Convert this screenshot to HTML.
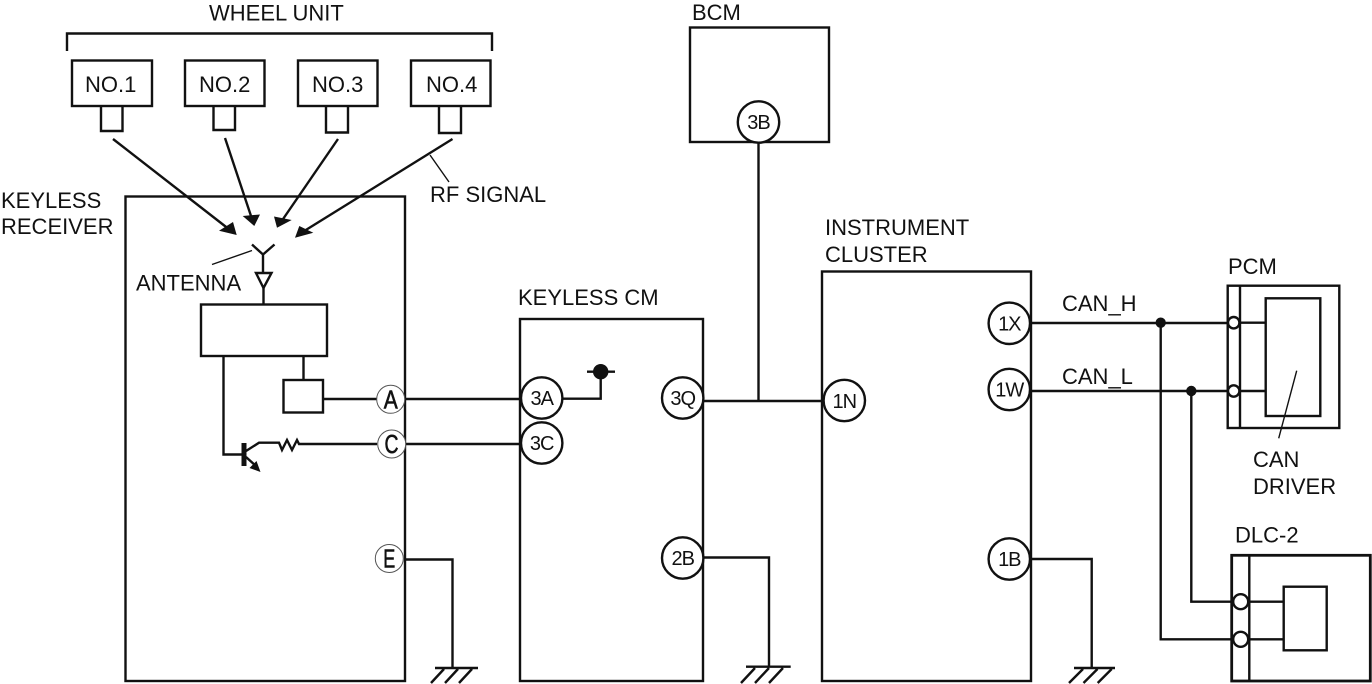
<!DOCTYPE html>
<html><head><meta charset="utf-8"><style>
html,body{margin:0;padding:0;background:#fff}
svg{display:block}
text{font-family:"Liberation Sans",sans-serif;font-size:22px;fill:#111}
.c{font-size:20px;text-anchor:middle;letter-spacing:-1px}
.l{font-size:26px;text-anchor:middle;stroke:#111;stroke-width:.6}
.s{fill:none;stroke:#111;stroke-width:2.4}
.w{fill:#fff;stroke:#111;stroke-width:2.4}
.t{fill:#fff;stroke:#555;stroke-width:1}
.b{fill:#111;stroke:none}
</style></head><body>
<svg width="1372" height="684" viewBox="0 0 1372 684" xmlns="http://www.w3.org/2000/svg">
<g class="s">
<path d="M67 51V33.5H492V51"/>
<rect x="72" y="60.5" width="80" height="45.5"/>
<rect x="185" y="60.5" width="79.5" height="45.5"/>
<rect x="298" y="60.5" width="79.5" height="45.5"/>
<rect x="411" y="60.5" width="79.5" height="45.5"/>
<path d="M101 106V131H122.5V106"/>
<path d="M213.5 106V130H235V106"/>
<path d="M326 106V132.5H348V106"/>
<path d="M439 106V133H461V106"/>
<path d="M113 139L230 230"/>
<path d="M225 138L252 219"/>
<path d="M338 139L281 222"/>
<path d="M452.5 139L301 233"/>
<path d="M430 155L449 182" stroke-width="1.4"/>
<rect x="125.5" y="196.5" width="279.5" height="484.5"/>
<path d="M252 244.5L263 254.5L274.5 244.5M263 254.5V273M263.5 288V304.5"/>
<path d="M256 273H271.5L263.5 288Z"/>
<path d="M212 264.5L252 250.5" stroke-width="1.4"/>
<rect x="201" y="304.5" width="126" height="51.5"/>
<rect x="283.5" y="380" width="39.5" height="32.5"/>
<path d="M303.5 356V380M323 399H377M405 399H520"/>
<path d="M223.5 356V454.5H242"/>
<path d="M246 451L259 442.7H279L282 450L287 440L292 450L297 440L299 444H377M405 444H520"/>
<path d="M246 457L257 467"/>
<path d="M405 559.5H452.5V668M435 668H478M444 669L431 683M458 669L445 683M472 669L459 683"/>
<rect x="520" y="319" width="183" height="362"/>
<path d="M562 398.7H600.7V372M587 371.7H615"/>
<path d="M703 401H823M758.5 142V401"/>
<path d="M703 557.5H769V666.7M746 666.7H790.7M755 668L741 683M769 668L755 683M783 668L769 683"/>
<rect x="690" y="27.5" width="139" height="114.5"/>
<rect x="822" y="271.5" width="209" height="409.5"/>
<path d="M1031 559H1091.7V668M1074 668H1115M1083 669L1069 683M1097.5 669L1083.500 683M1111.7 669L1097.700 683"/>
<path d="M1031 323H1228M1031 391H1228"/>
<rect x="1227.7" y="285.7" width="111.6" height="142.3"/>
<path d="M1240 285.7V428"/>
<rect x="1265.7" y="298.3" width="54.6" height="117.7"/>
<path d="M1240 322.7H1265.7M1240 391H1265.7"/>
<path d="M1296.7 370.7L1278.7 438.3" stroke-width="1.4"/>
<path d="M1160.7 323V639.3H1233M1191.3 391V601.7H1233"/>
<rect x="1231.7" y="555.3" width="138.6" height="125.7" stroke-width="2.8"/>
<path d="M1249.3 555.3V681"/>
<rect x="1283.7" y="586.7" width="43" height="63.6"/>
<path d="M1249 601.7H1283.7M1249 639.3H1283.7"/>
</g>
<g class="b">
<path d="M236.7 235L219 230.700L233 222Z"/>
<path d="M254.3 226L242.7 216L260 214.500Z"/>
<path d="M277 227.7L274 216.500L291.7 220Z"/>
<path d="M295 237.7L299.3 226L313.3 232.7Z"/>
<rect x="241.5" y="443" width="5" height="23"/>
<path d="M260.5 472L249.5 468L256.5 461Z"/>
<circle cx="600.7" cy="371.7" r="7.7"/>
<circle cx="1160.7" cy="322.7" r="5.2"/>
<circle cx="1191.3" cy="391" r="5.2"/>
</g>
<g class="w">
<circle cx="541.7" cy="398" r="20.7"/><circle cx="541.7" cy="443" r="20.7"/>
<circle cx="682.7" cy="398" r="20.7"/><circle cx="682.7" cy="558" r="20.7"/>
<circle cx="758.5" cy="122" r="20.7"/><circle cx="844.3" cy="400.5" r="20.7"/>
<circle cx="1009.3" cy="323.3" r="20.7"/><circle cx="1009.3" cy="389.5" r="20.7"/><circle cx="1009.3" cy="559" r="20.7"/>
<circle cx="1233.7" cy="322.7" r="5.7"/><circle cx="1233.7" cy="391" r="5.7"/>
<circle cx="1240.7" cy="601.7" r="7.5"/><circle cx="1240.7" cy="639.3" r="7.5"/>
</g>
<g class="t">
<circle cx="390.7" cy="399.3" r="14"/><circle cx="391.7" cy="444" r="14"/><circle cx="389.3" cy="558.5" r="14"/>
</g>
<text x="209" y="20.5">WHEEL UNIT</text>
<text x="85" y="92">NO.1</text><text x="199" y="92">NO.2</text><text x="312" y="92">NO.3</text><text x="426" y="92">NO.4</text>
<text x="430" y="202">RF SIGNAL</text>
<text x="1" y="208">KEYLESS</text><text x="1" y="234">RECEIVER</text>
<text x="136" y="290.5">ANTENNA</text>
<text x="692" y="20">BCM</text>
<text x="518" y="305">KEYLESS CM</text>
<text x="825" y="235">INSTRUMENT</text><text x="825" y="262">CLUSTER</text>
<text x="1062" y="311">CAN_H</text><text x="1062" y="384">CAN_L</text>
<text x="1228" y="274">PCM</text>
<text x="1253" y="467">CAN</text><text x="1253" y="494">DRIVER</text>
<text x="1235" y="542.5">DLC-2</text>
<text class="c" x="541.7" y="405">3A</text><text class="c" x="541.7" y="450">3C</text>
<text class="c" x="682.7" y="405">3Q</text><text class="c" x="682.7" y="565">2B</text>
<text class="c" x="758.5" y="129">3B</text><text class="c" x="844.3" y="408">1N</text>
<text class="c" x="1009.3" y="330.5">1X</text><text class="c" x="1009.3" y="396.5">1W</text><text class="c" x="1009.3" y="566">1B</text>
<text class="l" x="390.7" y="408.5" textLength="14" lengthAdjust="spacingAndGlyphs">A</text>
<text class="l" x="391.5" y="453" textLength="14" lengthAdjust="spacingAndGlyphs">C</text>
<text class="l" x="389.3" y="567.5" textLength="12" lengthAdjust="spacingAndGlyphs">E</text>
</svg>
</body></html>
